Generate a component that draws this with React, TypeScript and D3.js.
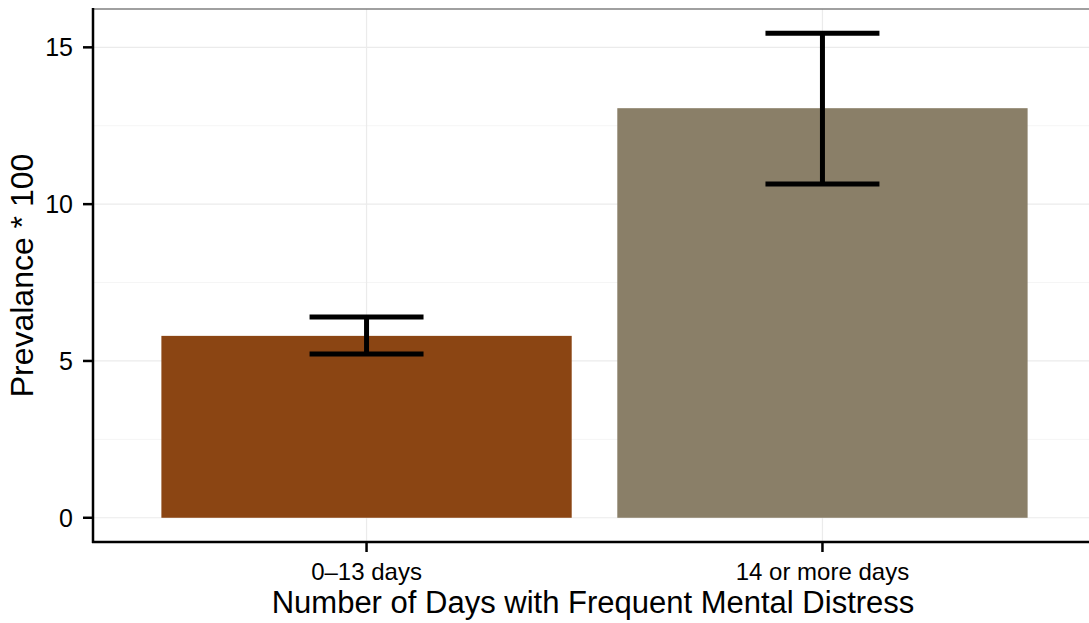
import React, { useEffect, useRef } from 'react';
import * as d3 from 'd3';

const categories = ['0\u201313 days', '14 or more days'];
const prevalence = [5.8, 13.06];
const lower = [5.22, 10.64];
const upper = [6.4, 15.45];
const barColors = ['#8B4513', '#8A7F68'];
const yTicks = [0, 5, 10, 15];
const yMinorTicks = [2.5, 7.5, 12.5];

const App: React.FC = () => {
  const svgRef = useRef<SVGSVGElement>(null);

  useEffect(() => {
    if (!svgRef.current) return;
    const width = 1089;
    const height = 623;
    const margin = { top: 9, right: -7, bottom: 81, left: 93 };

    const svg = d3.select(svgRef.current);
    svg.selectAll('*').remove();

    const font = 'Liberation Sans, Arial, sans-serif';
    const x0 = margin.left;
    const x1 = width - margin.right;
    const yTop = margin.top;
    const yBot = height - margin.bottom;

    // discrete axis with 0.6 expansion on each side
    const bandStep = (x1 - x0) / 2.2;
    const xCenter = (i: number) => x0 + (0.6 + i) * bandStep;

    const yMax = d3.max(upper) || 0;
    const pad = yMax * 0.05;
    const yScale = d3.scaleLinear().domain([-pad, yMax + pad]).range([yBot, yTop]);

    // grid
    svg.selectAll('.minor')
      .data(yMinorTicks)
      .enter()
      .append('line')
      .attr('x1', x0).attr('x2', x1)
      .attr('y1', d => yScale(d)).attr('y2', d => yScale(d))
      .attr('stroke', '#f5f5f5').attr('stroke-width', 1);

    svg.selectAll('.major')
      .data(yTicks)
      .enter()
      .append('line')
      .attr('x1', x0).attr('x2', x1)
      .attr('y1', d => yScale(d)).attr('y2', d => yScale(d))
      .attr('stroke', '#ebebeb').attr('stroke-width', 1.2);

    svg.selectAll('.vgrid')
      .data(categories)
      .enter()
      .append('line')
      .attr('x1', (_, i) => xCenter(i)).attr('x2', (_, i) => xCenter(i))
      .attr('y1', yTop).attr('y2', yBot)
      .attr('stroke', '#ebebeb').attr('stroke-width', 1.2);

    // bars
    const barW = bandStep * 0.9;
    svg.selectAll('.bar')
      .data(prevalence)
      .enter()
      .append('rect')
      .attr('x', (_, i) => xCenter(i) - barW / 2)
      .attr('width', barW)
      .attr('y', d => yScale(d))
      .attr('height', d => yScale(0) - yScale(d))
      .attr('fill', (_, i) => barColors[i]);

    // error bars
    const capW = bandStep * 0.25;
    categories.forEach((_, i) => {
      const g = svg.append('g').attr('stroke', '#000').attr('stroke-width', 5);
      g.append('line')
        .attr('x1', xCenter(i)).attr('x2', xCenter(i))
        .attr('y1', yScale(lower[i])).attr('y2', yScale(upper[i]));
      [lower[i], upper[i]].forEach(v => {
        g.append('line')
          .attr('x1', xCenter(i) - capW / 2).attr('x2', xCenter(i) + capW / 2)
          .attr('y1', yScale(v)).attr('y2', yScale(v));
      });
    });

    // top border
    svg.append('line')
      .attr('x1', x0).attr('x2', width)
      .attr('y1', yTop).attr('y2', yTop)
      .attr('stroke', '#808080').attr('stroke-width', 1.5);

    // axes lines
    svg.append('line')
      .attr('x1', x0).attr('x2', x0)
      .attr('y1', yTop - 1).attr('y2', yBot + 1)
      .attr('stroke', '#000').attr('stroke-width', 2.5);
    svg.append('line')
      .attr('x1', x0 - 1).attr('x2', width)
      .attr('y1', yBot).attr('y2', yBot)
      .attr('stroke', '#000').attr('stroke-width', 2.5);

    // y ticks
    yTicks.forEach(t => {
      svg.append('line')
        .attr('x1', x0 - 10).attr('x2', x0)
        .attr('y1', yScale(t)).attr('y2', yScale(t))
        .attr('stroke', '#000').attr('stroke-width', 2.5);
      svg.append('text')
        .attr('x', x0 - 20)
        .attr('y', yScale(t))
        .attr('dy', '0.36em')
        .attr('text-anchor', 'end')
        .attr('font-family', font)
        .attr('font-size', 25)
        .attr('fill', '#000')
        .text(t);
    });

    // x ticks
    categories.forEach((c, i) => {
      svg.append('line')
        .attr('x1', xCenter(i)).attr('x2', xCenter(i))
        .attr('y1', yBot).attr('y2', yBot + 10)
        .attr('stroke', '#000').attr('stroke-width', 2.5);
      svg.append('text')
        .attr('x', xCenter(i))
        .attr('y', 580)
        .attr('text-anchor', 'middle')
        .attr('font-family', font)
        .attr('font-size', 24)
        .attr('fill', '#000')
        .text(c);
    });

    // axis titles
    svg.append('text')
      .attr('x', (x0 + width) / 2 + 2)
      .attr('y', 613)
      .attr('text-anchor', 'middle')
      .attr('font-family', font)
      .attr('font-size', 31)
      .attr('fill', '#000')
      .text('Number of Days with Frequent Mental Distress');

    svg.append('text')
      .attr('transform', `translate(33,${(yTop + yBot) / 2}) rotate(-90)`)
      .attr('text-anchor', 'middle')
      .attr('font-family', font)
      .attr('font-size', 32)
      .attr('fill', '#000')
      .text('Prevalance * 100');
  }, []);

  return (
    <svg ref={svgRef} width={1089} height={623}
      style={{ position: 'absolute', left: 0, top: 0, background: '#fff' }} />
  );
};

export default App;
